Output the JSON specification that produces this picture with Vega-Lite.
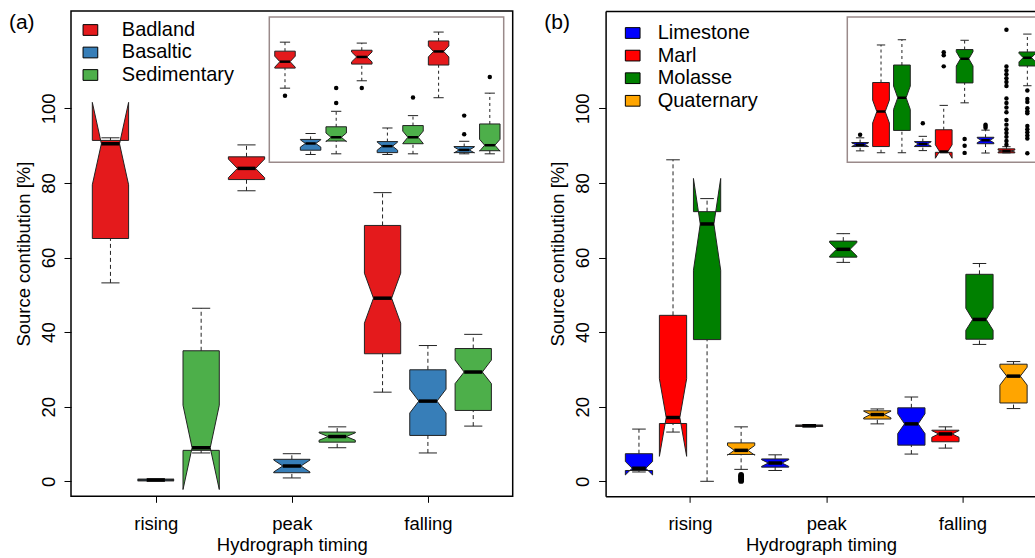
{
  "$schema": "https://vega.github.io/schema/vega-lite/v6.json",
  "padding": {"left": 8, "top": 10, "right": 0, "bottom": 0},
  "background": "white",
  "spacing": 92.6,
  "bounds": "flush",
  "config": {
    "font": "Liberation Sans",
    "view": {"stroke": "black", "strokeWidth": 1.5},
    "axis": {"grid": false, "domain": false, "labelFont": "Liberation Sans", "titleFont": "Liberation Sans", "labelFontSize": 18.5, "titleFontSize": 18.5, "titleFontWeight": "normal", "labelColor": "black", "titleColor": "black", "tickColor": "black", "tickWidth": 1, "domainColor": "black", "domainWidth": 1.5},
    "legend": {"labelFont": "Liberation Sans", "labelFontSize": 20, "labelColor": "black"}
  },
  "resolve": {"scale": {"fill": "independent"}, "legend": {"fill": "independent"}},
  "datasets": {
    "boxA": [
      {"t":"rising","s":"Badland","lw":53.2,"q1":65.1,"nlo":79.5,"med":90.5,"nhi":101.6,"q3":91.4,"uw":92.1},
      {"t":"rising","s":"Basaltic","lw":0.1,"q1":0.1,"nlo":0.2,"med":0.35,"nhi":0.5,"q3":0.6,"uw":0.6},
      {"t":"rising","s":"Sedimentary","lw":7.6,"q1":8.3,"nlo":-2.2,"med":9.0,"nhi":20.4,"q3":35.0,"uw":46.4},
      {"t":"peak","s":"Badland","lw":77.9,"q1":80.9,"nlo":81.4,"med":83.9,"nhi":86.4,"q3":87.0,"uw":90.2},
      {"t":"peak","s":"Basaltic","lw":0.9,"q1":2.3,"nlo":2.5,"med":4.1,"nhi":5.7,"q3":5.9,"uw":7.4},
      {"t":"peak","s":"Sedimentary","lw":9.0,"q1":10.5,"nlo":11.0,"med":12.0,"nhi":13.0,"q3":13.2,"uw":14.6},
      {"t":"falling","s":"Badland","lw":23.9,"q1":34.2,"nlo":42.4,"med":49.1,"nhi":55.8,"q3":68.6,"uw":77.4},
      {"t":"falling","s":"Basaltic","lw":7.6,"q1":12.3,"nlo":18.3,"med":21.5,"nhi":24.7,"q3":29.9,"uw":36.4},
      {"t":"falling","s":"Sedimentary","lw":14.8,"q1":19.0,"nlo":26.2,"med":29.3,"nhi":32.5,"q3":35.6,"uw":39.4}
    ],
    "insA": [
      {"t":"rising","s":"Badland","lw":51.1,"q1":66.0,"nlo":66.7,"med":70.8,"nhi":74.9,"q3":78.6,"uw":85.3},
      {"t":"rising","s":"Basaltic","lw":1.8,"q1":5.0,"nlo":7.3,"med":10.0,"nhi":12.7,"q3":13.0,"uw":17.4},
      {"t":"rising","s":"Sedimentary","lw":2.3,"q1":11.8,"nlo":11.4,"med":14.6,"nhi":17.8,"q3":22.4,"uw":33.9},
      {"t":"peak","s":"Badland","lw":56.6,"q1":69.0,"nlo":70.6,"med":74.3,"nhi":78.0,"q3":79.3,"uw":84.6},
      {"t":"peak","s":"Basaltic","lw":1.8,"q1":3.2,"nlo":5.0,"med":8.0,"nhi":11.0,"q3":11.4,"uw":21.5},
      {"t":"peak","s":"Sedimentary","lw":2.3,"q1":9.8,"nlo":10.0,"med":14.6,"nhi":19.2,"q3":23.3,"uw":30.7},
      {"t":"falling","s":"Badland","lw":44.0,"q1":68.3,"nlo":74.3,"med":78.4,"nhi":82.5,"q3":86.2,"uw":92.8},
      {"t":"falling","s":"Basaltic","lw":2.3,"q1":3.2,"nlo":3.0,"med":5.2,"nhi":7.4,"q3":7.7,"uw":11.6},
      {"t":"falling","s":"Sedimentary","lw":2.3,"q1":4.6,"nlo":4.3,"med":8.7,"nhi":13.1,"q3":24.5,"uw":47.4}
    ],
    "insOutA": [
      {"t":"rising","s":"Badland","v":45.4},
      {"t":"rising","s":"Sedimentary","v":40.1},
      {"t":"rising","s":"Sedimentary","v":51.3},
      {"t":"peak","s":"Badland","v":51.3},
      {"t":"peak","s":"Sedimentary","v":44.2},
      {"t":"falling","s":"Basaltic","v":16.9},
      {"t":"falling","s":"Basaltic","v":30.7},
      {"t":"falling","s":"Sedimentary","v":59.4}
    ],
    "boxB": [
      {"t":"rising","s":"Limestone","lw":2.5,"q1":2.9,"nlo":1.7,"med":3.5,"nhi":5.3,"q3":7.4,"uw":14.0},
      {"t":"rising","s":"Marl","lw":13.2,"q1":15.5,"nlo":6.7,"med":17.1,"nhi":27.5,"q3":44.5,"uw":86.2},
      {"t":"rising","s":"Molasse","lw":0,"q1":38.0,"nlo":56.6,"med":69.0,"nhi":81.2,"q3":72.3,"uw":75.8},
      {"t":"rising","s":"Quaternary","lw":3.2,"q1":7.2,"nlo":7.0,"med":8.3,"nhi":9.6,"q3":10.3,"uw":14.6},
      {"t":"peak","s":"Limestone","lw":2.9,"q1":3.8,"nlo":4.0,"med":4.9,"nhi":5.8,"q3":6.0,"uw":7.1},
      {"t":"peak","s":"Marl","lw":14.6,"q1":14.7,"nlo":14.8,"med":14.9,"nhi":15.0,"q3":15.1,"uw":15.2},
      {"t":"peak","s":"Molasse","lw":58.7,"q1":60.1,"nlo":60.4,"med":62.2,"nhi":64.0,"q3":64.4,"uw":66.4},
      {"t":"peak","s":"Quaternary","lw":15.4,"q1":16.7,"nlo":17.0,"med":17.9,"nhi":18.8,"q3":18.9,"uw":19.4},
      {"t":"falling","s":"Limestone","lw":7.3,"q1":9.7,"nlo":12.8,"med":15.4,"nhi":18.1,"q3":19.7,"uw":22.6},
      {"t":"falling","s":"Marl","lw":8.9,"q1":10.6,"nlo":11.8,"med":12.7,"nhi":13.6,"q3":13.7,"uw":14.6},
      {"t":"falling","s":"Molasse","lw":36.7,"q1":38.1,"nlo":40.5,"med":43.4,"nhi":46.4,"q3":55.5,"uw":58.4},
      {"t":"falling","s":"Quaternary","lw":19.5,"q1":21.0,"nlo":25.8,"med":28.2,"nhi":30.6,"q3":31.4,"uw":32.1}
    ],
    "outB": [
      {"t":"rising","s":"Quaternary","v":0.1},
      {"t":"rising","s":"Quaternary","v":0.5},
      {"t":"rising","s":"Quaternary","v":0.9},
      {"t":"rising","s":"Quaternary","v":1.3},
      {"t":"rising","s":"Quaternary","v":1.7}
    ],
    "insB": [
      {"t":"rising","s":"Limestone","lw":4.5,"q1":7.7,"nlo":7.8,"med":9.1,"nhi":10.4,"q3":10.7,"uw":14.2},
      {"t":"rising","s":"Marl","lw":3.1,"q1":7.7,"nlo":25.2,"med":33.7,"nhi":42.2,"q3":55.3,"uw":83.2},
      {"t":"rising","s":"Molasse","lw":3.1,"q1":19.7,"nlo":35.3,"med":44.0,"nhi":52.7,"q3":68.3,"uw":87.1},
      {"t":"peak","s":"Limestone","lw":4.7,"q1":7.7,"nlo":8.0,"med":9.6,"nhi":11.2,"q3":11.4,"uw":15.3},
      {"t":"peak","s":"Marl","lw":3.0,"q1":3.4,"nlo":-1.0,"med":4.0,"nhi":9.0,"q3":20.2,"uw":38.3},
      {"t":"peak","s":"Molasse","lw":40.2,"q1":55.0,"nlo":67.6,"med":72.9,"nhi":78.2,"q3":79.8,"uw":86.7},
      {"t":"falling","s":"Limestone","lw":2.9,"q1":9.8,"nlo":10.5,"med":12.3,"nhi":14.1,"q3":14.6,"uw":19.9},
      {"t":"falling","s":"Marl","lw":3.0,"q1":3.0,"nlo":3.7,"med":4.4,"nhi":5.1,"q3":6.0,"uw":7.6},
      {"t":"falling","s":"Molasse","lw":52.9,"q1":67.6,"nlo":70.6,"med":73.8,"nhi":77.0,"q3":78.0,"uw":91.3}
    ],
    "insOutB": [
      {"t":"rising","s":"Limestone","v":16.5},
      {"t":"peak","s":"Limestone","v":25.0},
      {"t":"peak","s":"Marl","v":77.8},
      {"t":"peak","s":"Marl","v":75.5},
      {"t":"peak","s":"Marl","v":67.3},
      {"t":"peak","s":"Molasse","v":13.3},
      {"t":"peak","s":"Molasse","v":8.3},
      {"t":"peak","s":"Molasse","v":3.0},
      {"t":"falling","s":"Limestone","v":21.7},
      {"t":"falling","s":"Limestone","v":22.9},
      {"t":"falling","s":"Limestone","v":24.0},
      {"t":"falling","s":"Marl","v":94.5},
      {"t":"falling","s":"Marl","v":67.2},
      {"t":"falling","s":"Marl","v":64.2},
      {"t":"falling","s":"Marl","v":61.5},
      {"t":"falling","s":"Marl","v":58.4},
      {"t":"falling","s":"Marl","v":55.7},
      {"t":"falling","s":"Marl","v":52.7},
      {"t":"falling","s":"Marl","v":43.5},
      {"t":"falling","s":"Marl","v":40.1},
      {"t":"falling","s":"Marl","v":36.7},
      {"t":"falling","s":"Marl","v":33.2},
      {"t":"falling","s":"Marl","v":27.5},
      {"t":"falling","s":"Marl","v":24.0},
      {"t":"falling","s":"Marl","v":20.6},
      {"t":"falling","s":"Marl","v":17.8},
      {"t":"falling","s":"Marl","v":14.9},
      {"t":"falling","s":"Marl","v":11.9},
      {"t":"falling","s":"Marl","v":9.1},
      {"t":"falling","s":"Molasse","v":49.3},
      {"t":"falling","s":"Molasse","v":43.1},
      {"t":"falling","s":"Molasse","v":40.8},
      {"t":"falling","s":"Molasse","v":36.2},
      {"t":"falling","s":"Molasse","v":33.9},
      {"t":"falling","s":"Molasse","v":32.5},
      {"t":"falling","s":"Molasse","v":22.9},
      {"t":"falling","s":"Molasse","v":20.6},
      {"t":"falling","s":"Molasse","v":18.3},
      {"t":"falling","s":"Molasse","v":16.0},
      {"t":"falling","s":"Molasse","v":13.7},
      {"t":"falling","s":"Molasse","v":2.7}
    ]
  },
  "hconcat": [
    {
      "width": 441.7,
      "height": 485.3,
      "resolve": {"scale": {"x": "independent", "y": "independent"}},
      "layer": [
        {
          "data": {"name": "boxA"},
          "transform": [
            {"calculate": "indexof(['rising','peak','falling'], datum.t) * 3 + indexof(['Badland','Basaltic','Sedimentary'], datum.s) + 1", "as": "slot"},
            {"calculate": "datum.slot - 0.2", "as": "xl"},
            {"calculate": "datum.slot + 0.2", "as": "xr"}
          ],
          "layer": [
            {
              "transform": [
                {"fold": ["q1","q1","nlo","med","nhi","q3","q3","nhi","med","nlo","q1"], "as": ["k","v"]},
                {"window": [{"op": "row_number", "as": "vi"}], "groupby": ["t","s"]},
                {"calculate": "datum.slot + 0.4 * [-1,1,1,0.5,1,1,-1,-1,-0.5,-1,-1][datum.vi - 1]", "as": "px"}
              ],
              "mark": {"type": "line", "stroke": "#222222", "strokeWidth": 1, "strokeJoin": "miter"},
              "encoding": {
                "x": {"field": "px", "type": "quantitative", "scale": {"domain": [0.13, 9.87], "nice": false, "zero": false},
                      "axis": {"values": [2,5,8], "labelExpr": "datum.value == 2 ? 'rising' : datum.value == 5 ? 'peak' : 'falling'", "title": "Hydrograph timing", "tickSize": 6, "labelPadding": 12, "titlePadding": 3, "labelFlush": false, "labelOverlap": false}},
                "y": {"field": "v", "type": "quantitative", "scale": {"domain": [-4.02, 126.1], "nice": false, "zero": false},
                      "axis": {"values": [0,20,40,60,80,100], "labelAngle": 270, "title": "Source contibution [%]", "tickSize": 7, "labelPadding": 6, "titlePadding": 6}},
                "fill": {"field": "s", "type": "nominal", "scale": {"domain": ["Badland","Basaltic","Sedimentary"], "range": ["#E41A1C","#377EB8","#4DAF4A"]},
                         "legend": {"title": null, "orient": "top-left", "offset": 9, "padding": 0, "symbolType": "M-1,-0.73H1V0.73H-1Z", "symbolSize": 216, "symbolStrokeColor": "black", "symbolStrokeWidth": 1, "symbolOffset": 0.4, "labelOffset": 21.4, "rowPadding": 2.5}},
                "detail": {"field": "t"},
                "order": {"field": "vi", "type": "quantitative"}
              }
            },
            {
              "mark": {"type": "rule", "stroke": "#222222", "strokeDash": [4, 3]},
              "encoding": {"x": {"field": "slot", "type": "quantitative"}, "y": {"field": "q3", "type": "quantitative"}, "y2": {"field": "uw"}}
            },
            {
              "mark": {"type": "rule", "stroke": "#222222", "strokeDash": [4, 3]},
              "encoding": {"x": {"field": "slot", "type": "quantitative"}, "y": {"field": "lw", "type": "quantitative"}, "y2": {"field": "q1"}}
            },
            {
              "mark": {"type": "rule", "stroke": "#222222"},
              "encoding": {"x": {"field": "xl", "type": "quantitative"}, "x2": {"field": "xr"}, "y": {"field": "uw", "type": "quantitative"}}
            },
            {
              "mark": {"type": "rule", "stroke": "#222222"},
              "encoding": {"x": {"field": "xl", "type": "quantitative"}, "x2": {"field": "xr"}, "y": {"field": "lw", "type": "quantitative"}}
            },
            {
              "mark": {"type": "rule", "stroke": "black", "strokeWidth": 3.5, "strokeCap": "butt"},
              "encoding": {"x": {"field": "xl", "type": "quantitative"}, "x2": {"field": "xr"}, "y": {"field": "med", "type": "quantitative"}}
            },
            {
              "data": {"values": [{"panel": "(a)"}]},
              "mark": {"type": "text", "align": "left", "baseline": "alphabetic", "fontSize": 21, "font": "Liberation Sans", "color": "black", "clip": false},
              "encoding": {"text": {"field": "panel"}, "x": {"datum": -1.238, "type": "quantitative"}, "y": {"datum": 121.14, "type": "quantitative"}}
            }
          ]
        },
        {
          "layer": [
            {
              "data": {"values": [{"box": "inset"}]},
              "mark": {"type": "rect", "fill": "white", "stroke": "#9a8a8a", "strokeWidth": 1.5},
              "encoding": {
                "x": {"datum": 0.387, "type": "quantitative", "scale": {"domain": [0.387, 9.543], "range": [198.3, 432.7], "nice": false, "zero": false}, "axis": null},
                "x2": {"datum": 9.543},
                "y": {"datum": -4, "type": "quantitative", "scale": {"domain": [-4, 104], "range": [151.3, 6], "nice": false, "zero": false}, "axis": null},
                "y2": {"datum": 104}
              }
            },
            {
              "data": {"name": "insA"},
              "transform": [
                {"calculate": "indexof(['rising','peak','falling'], datum.t) * 3 + indexof(['Badland','Basaltic','Sedimentary'], datum.s) + 1", "as": "slot"},
                {"calculate": "datum.slot - 0.2", "as": "xl"},
                {"calculate": "datum.slot + 0.2", "as": "xr"}
              ],
              "layer": [
                {
                  "transform": [
                    {"fold": ["q1","q1","nlo","med","nhi","q3","q3","nhi","med","nlo","q1"], "as": ["k","v"]},
                    {"window": [{"op": "row_number", "as": "vi"}], "groupby": ["t","s"]},
                    {"calculate": "datum.slot + 0.4 * [-1,1,1,0.5,1,1,-1,-1,-0.5,-1,-1][datum.vi - 1]", "as": "px"}
                  ],
                  "mark": {"type": "line", "stroke": "#222222", "strokeWidth": 1, "strokeJoin": "miter"},
                  "encoding": {
                    "x": {"field": "px", "type": "quantitative", "axis": null},
                    "y": {"field": "v", "type": "quantitative", "axis": null},
                    "fill": {"field": "s", "type": "nominal", "legend": null},
                    "detail": {"field": "t"},
                    "order": {"field": "vi", "type": "quantitative"}
                  }
                },
                {
                  "mark": {"type": "rule", "stroke": "#222222", "strokeDash": [3, 3]},
                  "encoding": {"x": {"field": "slot", "type": "quantitative", "axis": null}, "y": {"field": "q3", "type": "quantitative", "axis": null}, "y2": {"field": "uw"}}
                },
                {
                  "mark": {"type": "rule", "stroke": "#222222", "strokeDash": [3, 3]},
                  "encoding": {"x": {"field": "slot", "type": "quantitative", "axis": null}, "y": {"field": "lw", "type": "quantitative", "axis": null}, "y2": {"field": "q1"}}
                },
                {
                  "mark": {"type": "rule", "stroke": "#222222"},
                  "encoding": {"x": {"field": "xl", "type": "quantitative", "axis": null}, "x2": {"field": "xr"}, "y": {"field": "uw", "type": "quantitative", "axis": null}}
                },
                {
                  "mark": {"type": "rule", "stroke": "#222222"},
                  "encoding": {"x": {"field": "xl", "type": "quantitative", "axis": null}, "x2": {"field": "xr"}, "y": {"field": "lw", "type": "quantitative", "axis": null}}
                },
                {
                  "mark": {"type": "rule", "stroke": "black", "strokeWidth": 2.5, "strokeCap": "butt"},
                  "encoding": {"x": {"field": "xl", "type": "quantitative", "axis": null}, "x2": {"field": "xr"}, "y": {"field": "med", "type": "quantitative", "axis": null}}
                }
              ]
            },
            {
              "data": {"name": "insOutA"},
              "transform": [
                {"calculate": "indexof(['rising','peak','falling'], datum.t) * 3 + indexof(['Badland','Basaltic','Sedimentary'], datum.s) + 1", "as": "slot"}
              ],
              "mark": {"type": "point", "filled": true, "color": "black", "opacity": 1, "size": 20},
              "encoding": {"x": {"field": "slot", "type": "quantitative", "axis": null}, "y": {"field": "v", "type": "quantitative", "axis": null}}
            }
          ]
        }
      ]
    },
    {
      "width": 430.7,
      "height": 485.3,
      "view": {"stroke": null},
      "resolve": {"scale": {"x": "independent", "y": "independent"}},
      "layer": [
        {
          "data": {"name": "boxB"},
          "transform": [
            {"calculate": "indexof(['rising','peak','falling'], datum.t) * 4 + indexof(['Limestone','Marl','Molasse','Quaternary'], datum.s) + 1", "as": "slot"},
            {"calculate": "datum.slot - 0.2", "as": "xl"},
            {"calculate": "datum.slot + 0.2", "as": "xr"}
          ],
          "resolve": {"axis": {"x": "independent"}},
          "layer": [
            {
              "transform": [
                {"fold": ["q1","q1","nlo","med","nhi","q3","q3","nhi","med","nlo","q1"], "as": ["k","v"]},
                {"window": [{"op": "row_number", "as": "vi"}], "groupby": ["t","s"]},
                {"calculate": "datum.slot + 0.4 * [-1,1,1,0.5,1,1,-1,-1,-0.5,-1,-1][datum.vi - 1]", "as": "px"}
              ],
              "mark": {"type": "line", "stroke": "#222222", "strokeWidth": 1, "strokeJoin": "miter"},
              "encoding": {
                "x": {"field": "px", "type": "quantitative", "scale": {"domain": [0.02, 12.669], "nice": false, "zero": false},
                      "axis": {"orient": "bottom", "domain": true, "values": [2.5,6.5,10.5], "labelExpr": "datum.value == 2.5 ? 'rising' : datum.value == 6.5 ? 'peak' : 'falling'", "title": "Hydrograph timing", "tickSize": 6, "labelPadding": 12, "titlePadding": 3, "labelFlush": false, "labelOverlap": false}},
                "y": {"field": "v", "type": "quantitative", "scale": {"domain": [-4.02, 126.1], "nice": false, "zero": false},
                      "axis": {"domain": true, "values": [0,20,40,60,80,100], "labelAngle": 270, "title": "Source contibution [%]", "tickSize": 7, "labelPadding": 6, "titlePadding": 6}},
                "fill": {"field": "s", "type": "nominal", "scale": {"domain": ["Limestone","Marl","Molasse","Quaternary"], "range": ["#0000FF","#FF0000","#008000","#FFA500"]},
                         "legend": {"title": null, "orient": "top-left", "offset": 11.5, "padding": 0, "symbolType": "M-1,-0.73H1V0.73H-1Z", "symbolSize": 216, "symbolStrokeColor": "black", "symbolStrokeWidth": 1, "symbolOffset": 5.1, "labelOffset": 15, "rowPadding": 2.6}},
                "detail": {"field": "t"},
                "order": {"field": "vi", "type": "quantitative"}
              }
            },
            {
              "mark": {"type": "rule", "stroke": "#222222", "strokeDash": [4, 3]},
              "encoding": {"x": {"field": "slot", "type": "quantitative", "axis": null}, "y": {"field": "q3", "type": "quantitative"}, "y2": {"field": "uw"}}
            },
            {
              "mark": {"type": "rule", "stroke": "#222222", "strokeDash": [4, 3]},
              "encoding": {"x": {"field": "slot", "type": "quantitative", "axis": null}, "y": {"field": "lw", "type": "quantitative"}, "y2": {"field": "q1"}}
            },
            {
              "mark": {"type": "rule", "stroke": "#222222"},
              "encoding": {"x": {"field": "xl", "type": "quantitative", "axis": {"orient": "top", "domain": true, "labels": false, "ticks": false, "title": null}}, "x2": {"field": "xr"}, "y": {"field": "uw", "type": "quantitative"}}
            },
            {
              "mark": {"type": "rule", "stroke": "#222222"},
              "encoding": {"x": {"field": "xl", "type": "quantitative", "axis": null}, "x2": {"field": "xr"}, "y": {"field": "lw", "type": "quantitative"}}
            },
            {
              "mark": {"type": "rule", "stroke": "black", "strokeWidth": 3.5, "strokeCap": "butt"},
              "encoding": {"x": {"field": "xl", "type": "quantitative", "axis": null}, "x2": {"field": "xr"}, "y": {"field": "med", "type": "quantitative"}}
            },
            {
              "data": {"name": "outB"},
              "transform": [
                {"calculate": "indexof(['rising','peak','falling'], datum.t) * 4 + indexof(['Limestone','Marl','Molasse','Quaternary'], datum.s) + 1", "as": "slot"}
              ],
              "mark": {"type": "point", "filled": true, "color": "black", "opacity": 1, "size": 34},
              "encoding": {"x": {"field": "slot", "type": "quantitative", "axis": null}, "y": {"field": "v", "type": "quantitative"}}
            },
            {
              "data": {"values": [{"panel": "(b)"}]},
              "mark": {"type": "text", "align": "left", "baseline": "alphabetic", "fontSize": 21, "font": "Liberation Sans", "color": "black", "clip": false},
              "encoding": {"text": {"field": "panel"}, "x": {"datum": -1.78, "type": "quantitative", "axis": null}, "y": {"datum": 121.14, "type": "quantitative"}}
            }
          ]
        },
        {
          "layer": [
            {
              "data": {"values": [{"box": "inset"}]},
              "mark": {"type": "rect", "fill": "white", "stroke": "#9a8a8a", "strokeWidth": 1.5, "clip": true},
              "encoding": {
                "x": {"datum": 0.387, "type": "quantitative", "scale": {"domain": [0.387, 9.543], "range": [241.7, 433.1], "nice": false, "zero": false}, "axis": null},
                "x2": {"datum": 9.543},
                "y": {"datum": -4, "type": "quantitative", "scale": {"domain": [-4, 104], "range": [151.3, 6], "nice": false, "zero": false}, "axis": null},
                "y2": {"datum": 104}
              }
            },
            {
              "data": {"name": "insB"},
              "transform": [
                {"calculate": "indexof(['rising','peak','falling'], datum.t) * 3 + indexof(['Limestone','Marl','Molasse'], datum.s) + 1", "as": "slot"},
                {"calculate": "datum.slot - 0.2", "as": "xl"},
                {"calculate": "datum.slot + 0.2", "as": "xr"}
              ],
              "layer": [
                {
                  "transform": [
                    {"fold": ["q1","q1","nlo","med","nhi","q3","q3","nhi","med","nlo","q1"], "as": ["k","v"]},
                    {"window": [{"op": "row_number", "as": "vi"}], "groupby": ["t","s"]},
                    {"calculate": "datum.slot + 0.4 * [-1,1,1,0.5,1,1,-1,-1,-0.5,-1,-1][datum.vi - 1]", "as": "px"}
                  ],
                  "mark": {"type": "line", "stroke": "#222222", "strokeWidth": 1, "strokeJoin": "miter", "clip": true},
                  "encoding": {
                    "x": {"field": "px", "type": "quantitative", "axis": null},
                    "y": {"field": "v", "type": "quantitative", "axis": null},
                    "fill": {"field": "s", "type": "nominal", "legend": null},
                    "detail": {"field": "t"},
                    "order": {"field": "vi", "type": "quantitative"}
                  }
                },
                {
                  "mark": {"type": "rule", "stroke": "#222222", "strokeDash": [3, 3], "clip": true},
                  "encoding": {"x": {"field": "slot", "type": "quantitative", "axis": null}, "y": {"field": "q3", "type": "quantitative", "axis": null}, "y2": {"field": "uw"}}
                },
                {
                  "mark": {"type": "rule", "stroke": "#222222", "strokeDash": [3, 3], "clip": true},
                  "encoding": {"x": {"field": "slot", "type": "quantitative", "axis": null}, "y": {"field": "lw", "type": "quantitative", "axis": null}, "y2": {"field": "q1"}}
                },
                {
                  "mark": {"type": "rule", "stroke": "#222222", "clip": true},
                  "encoding": {"x": {"field": "xl", "type": "quantitative", "axis": null}, "x2": {"field": "xr"}, "y": {"field": "uw", "type": "quantitative", "axis": null}}
                },
                {
                  "mark": {"type": "rule", "stroke": "#222222", "clip": true},
                  "encoding": {"x": {"field": "xl", "type": "quantitative", "axis": null}, "x2": {"field": "xr"}, "y": {"field": "lw", "type": "quantitative", "axis": null}}
                },
                {
                  "mark": {"type": "rule", "stroke": "black", "strokeWidth": 2.5, "strokeCap": "butt", "clip": true},
                  "encoding": {"x": {"field": "xl", "type": "quantitative", "axis": null}, "x2": {"field": "xr"}, "y": {"field": "med", "type": "quantitative", "axis": null}}
                }
              ]
            },
            {
              "data": {"name": "insOutB"},
              "transform": [
                {"calculate": "indexof(['rising','peak','falling'], datum.t) * 3 + indexof(['Limestone','Marl','Molasse'], datum.s) + 1", "as": "slot"}
              ],
              "mark": {"type": "point", "filled": true, "color": "black", "opacity": 1, "size": 20, "clip": true},
              "encoding": {"x": {"field": "slot", "type": "quantitative", "axis": null}, "y": {"field": "v", "type": "quantitative", "axis": null}}
            }
          ]
        }
      ]
    }
  ]
}
